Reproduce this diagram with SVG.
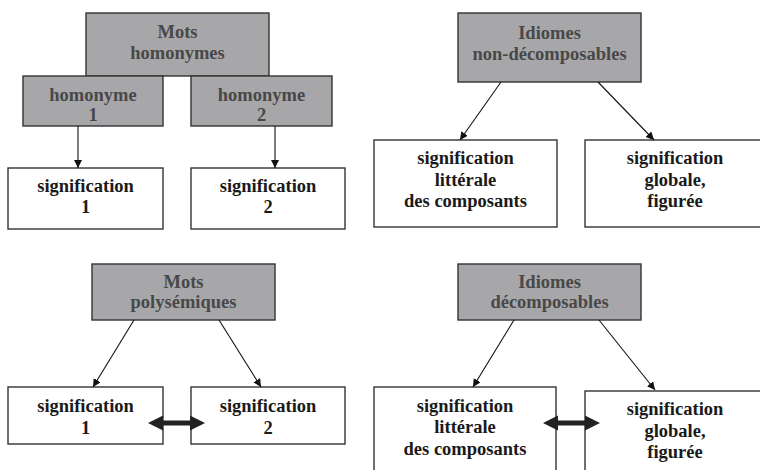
<svg xmlns="http://www.w3.org/2000/svg" width="760" height="470" viewBox="0 0 760 470">
<style>
  .g { fill: #a7a7a9; stroke: #333; stroke-width: 1.4; }
  .w { fill: #fff; stroke: #333; stroke-width: 1.4; }
  text { font-family: "Liberation Serif", "Times New Roman", Times, "DejaVu Serif", serif; font-weight: 700; font-size: 18.5px; text-anchor: middle; }
  .tg { fill: #484848; }
  .tw { fill: #1a1a1a; }
  .c { stroke: #111; stroke-width: 1.1; fill: none; marker-end: url(#ah); }
</style>
<defs>
  <marker id="ah" viewBox="0 0 10 10" refX="10" refY="5" markerWidth="8" markerHeight="8" markerUnits="userSpaceOnUse" orient="auto">
    <path d="M0,0 L10,5 L0,10 z" fill="#111"/>
  </marker>
  <path id="dbl" d="M0,0 L15,-7.5 L15,-2.5 L42,-2.5 L42,-7.5 L57,0 L42,7.5 L42,2.5 L15,2.5 L15,7.5 z" fill="#222"/>
</defs>
<rect width="760" height="470" fill="#fff"/>

<g id="mots-homonymes">
  <rect class="g" x="86" y="13" width="183" height="63"/>
  <text class="tg" x="177.5" y="38">Mots</text>
  <text class="tg" x="177.5" y="59">homonymes</text>
</g>
<g id="homonyme-1">
  <rect class="g" x="23" y="76" width="140" height="50"/>
  <text class="tg" x="93" y="101">homonyme</text>
  <text class="tg" x="93" y="121">1</text>
</g>
<g id="homonyme-2">
  <rect class="g" x="191" y="76" width="141" height="50"/>
  <text class="tg" x="261.5" y="101">homonyme</text>
  <text class="tg" x="261.5" y="121">2</text>
</g>
<g id="hom-signification-1">
  <rect class="w" x="8" y="168" width="155" height="61"/>
  <text class="tw" x="85.5" y="192">signification</text>
  <text class="tw" x="85.5" y="213">1</text>
</g>
<g id="hom-signification-2">
  <rect class="w" x="191" y="168" width="154" height="61"/>
  <text class="tw" x="268" y="192">signification</text>
  <text class="tw" x="268" y="213">2</text>
</g>

<g id="idiomes-non-decomposables">
  <rect class="g" x="458" y="13" width="183" height="69"/>
  <text class="tg" x="549.5" y="39">Idiomes</text>
  <text class="tg" x="549.5" y="60">non-décomposables</text>
</g>
<g id="nd-litterale">
  <rect class="w" x="374" y="140" width="183" height="87"/>
  <text class="tw" x="465.5" y="164">signification</text>
  <text class="tw" x="465.5" y="186">littérale</text>
  <text class="tw" x="465.5" y="207">des composants</text>
</g>
<g id="nd-globale">
  <rect class="w" x="585" y="140" width="180" height="87"/>
  <text class="tw" x="675" y="164">signification</text>
  <text class="tw" x="675" y="186">globale,</text>
  <text class="tw" x="675" y="207">figurée</text>
</g>

<g id="mots-polysemiques">
  <rect class="g" x="92" y="264" width="183" height="56"/>
  <text class="tg" x="183.5" y="288">Mots</text>
  <text class="tg" x="183.5" y="308">polysémiques</text>
</g>
<g id="poly-signification-1">
  <rect class="w" x="8" y="387" width="155" height="57"/>
  <text class="tw" x="85.5" y="412">signification</text>
  <text class="tw" x="85.5" y="434">1</text>
</g>
<g id="poly-signification-2">
  <rect class="w" x="191" y="387" width="154" height="57"/>
  <text class="tw" x="268" y="412">signification</text>
  <text class="tw" x="268" y="434">2</text>
</g>

<g id="idiomes-decomposables">
  <rect class="g" x="458" y="264" width="183" height="56"/>
  <text class="tg" x="549.5" y="288">Idiomes</text>
  <text class="tg" x="549.5" y="308">décomposables</text>
</g>
<g id="d-litterale">
  <rect class="w" x="374" y="387" width="182" height="100"/>
  <text class="tw" x="465" y="412">signification</text>
  <text class="tw" x="465" y="433">littérale</text>
  <text class="tw" x="465" y="455">des composants</text>
</g>
<g id="d-globale">
  <rect class="w" x="585" y="391" width="180" height="100"/>
  <text class="tw" x="675" y="415">signification</text>
  <text class="tw" x="675" y="437">globale,</text>
  <text class="tw" x="675" y="458">figurée</text>
</g>

<g id="connectors">
  <line class="c" x1="78" y1="126" x2="78" y2="168"/>
  <line class="c" x1="275" y1="126" x2="275" y2="168"/>
  <line class="c" x1="501" y1="82" x2="460" y2="140"/>
  <line class="c" x1="598" y1="82" x2="654" y2="140"/>
  <line class="c" x1="134" y1="320" x2="93" y2="387"/>
  <line class="c" x1="219" y1="320" x2="261" y2="387"/>
  <line class="c" x1="514" y1="320" x2="473" y2="387"/>
  <line class="c" x1="599" y1="320" x2="655" y2="390"/>
  <use href="#dbl" x="148" y="423"/>
  <use href="#dbl" x="543" y="423"/>
</g>
</svg>
